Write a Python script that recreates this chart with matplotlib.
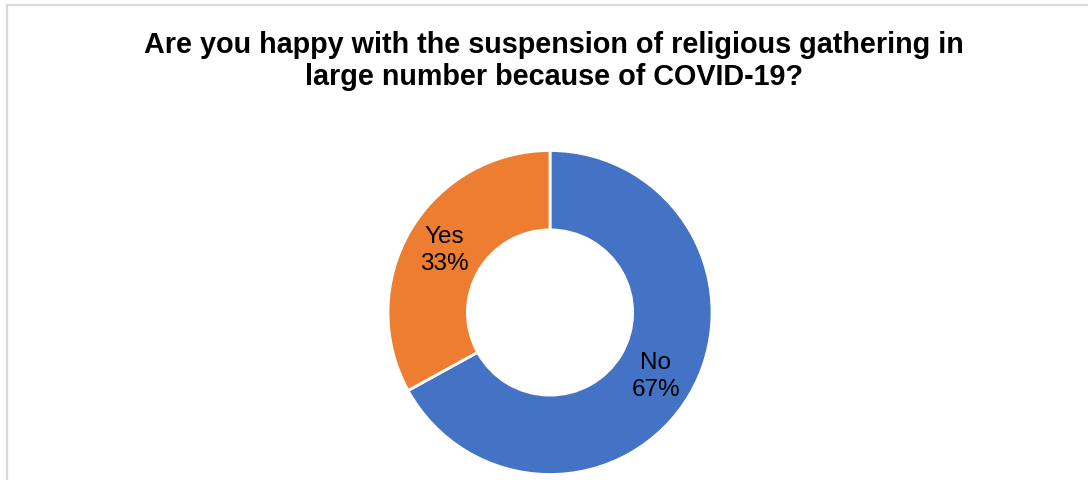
import matplotlib
matplotlib.use('Agg')
from matplotlib import pyplot as plt
from matplotlib.patches import Rectangle

labels = ['No', 'Yes']
values = [67, 33]
colors = ['#4472C4', '#ED7D31']
title = 'Are you happy with the suspension of religious gathering in\nlarge number because of COVID-19?'

plt.rcParams['font.family'] = ['Liberation Sans', 'DejaVu Sans']

W, H = 1088, 481
fig = plt.figure(figsize=(W / 100, H / 100), dpi=100)

# light grey chart-area border (left/top visible, right/bottom cut off)
fig.patches.append(Rectangle((6.5 / W, -0.05), 1.2, 1.05 - 5.5 / H,
                             transform=fig.transFigure, fill=False,
                             edgecolor='#d9d9d9', linewidth=1.6))

# baseline of the last title line
fig.text(554 / W, 1 - 85 / H, title, ha='center', va='baseline',
         fontsize=20.7, fontweight='bold', color='black', linespacing=1.2)

r = 162
cx, cy = 550, 313.5
ax = fig.add_axes([(cx - r) / W, (H - cy - r) / H, 2 * r / W, 2 * r / H])
wedges, texts, autotexts = ax.pie(values, colors=colors, startangle=90, counterclock=False,
                                  radius=1, autopct='%d%%', pctdistance=0.76,
                                  wedgeprops=dict(width=0.49, edgecolor='white', linewidth=2))
for t, lab, v in zip(autotexts, labels, values):
    t.set_text(f'{lab}\n{v}%')
    t.set_fontsize(17.5)
    t.set_linespacing(1.28)
    t.set_color('black')
ax.set_xlim(-1, 1)
ax.set_ylim(-1, 1)
ax.set_aspect('equal')
ax.axis('off')

fig.savefig('out.png', dpi=100)
